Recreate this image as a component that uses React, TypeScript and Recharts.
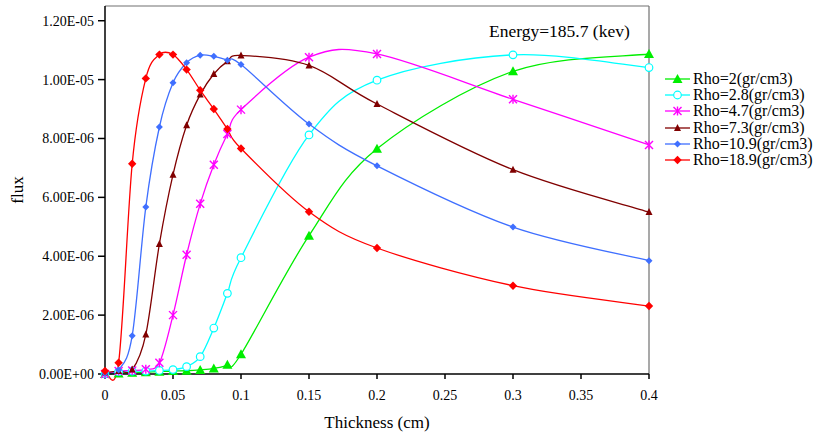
import React from "react";
import { LineChart, Line, XAxis, YAxis, ReferenceLine } from "recharts";

// ── data (flux values in units of 1e-6) ──────────────────────────────────

const THICKNESS = [0, 0.01, 0.02, 0.03, 0.04, 0.05, 0.06, 0.07, 0.08, 0.09, 0.1, 0.15, 0.2, 0.3, 0.4];

const RHO_2 = [0.0, 0.02, 0.04, 0.06, 0.08, 0.1, 0.11, 0.14, 0.19, 0.31, 0.67, 4.7, 7.65, 10.28, 10.87];
const RHO_2_8 = [0.0, 0.08, 0.1, 0.1, 0.12, 0.15, 0.25, 0.59, 1.56, 2.74, 3.95, 8.12, 9.98, 10.84, 10.41];
const RHO_4_7 = [0.0, 0.1, 0.12, 0.16, 0.38, 2.0, 4.05, 5.78, 7.11, 8.15, 8.98, 10.76, 10.87, 9.33, 7.78];
const RHO_7_3 = [0.05, 0.1, 0.15, 1.34, 4.42, 6.77, 8.45, 9.49, 10.19, 10.62, 10.82, 10.48, 9.17, 6.94, 5.5];
const RHO_10_9 = [0.02, 0.14, 1.3, 5.67, 8.39, 9.89, 10.57, 10.83, 10.79, 10.66, 10.51, 8.49, 7.07, 4.99, 3.85];
const RHO_18_9 = [0.1, 0.38, 7.14, 10.04, 10.85, 10.85, 10.34, 9.64, 9.0, 8.32, 7.66, 5.51, 4.28, 3.0, 2.31];

const X_TICKS = [0, 0.05, 0.1, 0.15, 0.2, 0.25, 0.3, 0.35, 0.4];
const Y_TICKS = [0, 2e-6, 4e-6, 6e-6, 8e-6, 1e-5, 1.2e-5];

type Shape = "triangle" | "circle" | "star" | "smallTriangle" | "diamond" | "bigDiamond";

const SERIES: { key: string; name: string; values: number[]; color: string; shape: Shape }[] = [
  { key: "r2", name: "Rho=2(gr/cm3)", values: RHO_2, color: "#00ee00", shape: "triangle" },
  { key: "r28", name: "Rho=2.8(gr/cm3)", values: RHO_2_8, color: "#00ffff", shape: "circle" },
  { key: "r47", name: "Rho=4.7(gr/cm3)", values: RHO_4_7, color: "#ff00ff", shape: "star" },
  { key: "r73", name: "Rho=7.3(gr/cm3)", values: RHO_7_3, color: "#800000", shape: "smallTriangle" },
  { key: "r109", name: "Rho=10.9(gr/cm3)", values: RHO_10_9, color: "#3f6fff", shape: "diamond" },
  { key: "r189", name: "Rho=18.9(gr/cm3)", values: RHO_18_9, color: "#ff0000", shape: "bigDiamond" },
];

const rows = THICKNESS.map((t, i) => {
  const row: Record<string, number> = { t };
  SERIES.forEach((s) => (row[s.key] = s.values[i] * 1e-6));
  return row;
});

const FONT = '"Liberation Serif", "Times New Roman", serif';

// Excel-style smoothed line (bezier through points, tension 1/6)
// eslint-disable-next-line @typescript-eslint/no-explicit-any
const excelCurve = (context: any) => {
  let pts: number[][] = [];
  return {
    areaStart() {},
    areaEnd() {},
    lineStart() {
      pts = [];
    },
    lineEnd() {
      if (!pts.length) return;
      context.moveTo(pts[0][0], pts[0][1]);
      for (let i = 0; i < pts.length - 1; i++) {
        const p0 = pts[i - 1] || pts[i];
        const p1 = pts[i];
        const p2 = pts[i + 1];
        const p3 = pts[i + 2] || p2;
        const k = 1 / 6;
        context.bezierCurveTo(
          p1[0] + (p2[0] - p0[0]) * k,
          p1[1] + (p2[1] - p0[1]) * k,
          p2[0] - (p3[0] - p1[0]) * k,
          p2[1] - (p3[1] - p1[1]) * k,
          p2[0],
          p2[1]
        );
      }
    },
    point(x: number, y: number) {
      pts.push([+x, +y]);
    },
  };
};

function Marker({ cx, cy, shape, color }: { cx: number; cy: number; shape: Shape; color: string }) {
  switch (shape) {
    case "triangle":
      return <polygon points={`${cx},${cy - 5} ${cx + 5},${cy + 4} ${cx - 5},${cy + 4}`} fill={color} />;
    case "circle":
      return <circle cx={cx} cy={cy} r={3.8} fill="#fff" stroke={color} strokeWidth={1.2} />;
    case "star":
      return (
        <g stroke={color} strokeWidth={1.4}>
          <line x1={cx - 4} y1={cy - 4} x2={cx + 4} y2={cy + 4} />
          <line x1={cx - 4} y1={cy + 4} x2={cx + 4} y2={cy - 4} />
          <line x1={cx} y1={cy - 4.5} x2={cx} y2={cy + 4.5} />
        </g>
      );
    case "smallTriangle":
      return <polygon points={`${cx},${cy - 4} ${cx + 3.5},${cy + 3} ${cx - 3.5},${cy + 3}`} fill={color} />;
    case "diamond":
      return <polygon points={`${cx},${cy - 3.5} ${cx + 3.5},${cy} ${cx},${cy + 3.5} ${cx - 3.5},${cy}`} fill={color} />;
    default:
      return <polygon points={`${cx},${cy - 4.2} ${cx + 4.2},${cy} ${cx},${cy + 4.2} ${cx - 4.2},${cy}`} fill={color} />;
  }
}

function sci(v: number) {
  if (v === 0) return "0.00E+00";
  const [m, e] = v.toExponential(2).split("e");
  const n = parseInt(e, 10);
  return `${m}E${n < 0 ? "-" : "+"}${String(Math.abs(n)).padStart(2, "0")}`;
}

function LegendBox() {
  return (
    <div style={{ position: "absolute", left: 663, top: 70.9, fontFamily: FONT, fontSize: 16, color: "#000" }}>
      {SERIES.map((s) => (
        <div key={s.key} style={{ display: "flex", alignItems: "center", height: 16.2, whiteSpace: "nowrap" }}>
          <svg width={30} height={16}>
            <line x1={2} y1={8} x2={27} y2={8} stroke={s.color} strokeWidth={1.3} />
            <Marker cx={14.5} cy={8} shape={s.shape} color={s.color} />
          </svg>
          <span style={{ fontFamily: FONT }}>{s.name}</span>
        </div>
      ))}
    </div>
  );
}

const TICK = { fill: "#000", fontSize: 14, fontFamily: FONT };

// eslint-disable-next-line @typescript-eslint/no-explicit-any
const XTitle = ({ viewBox }: any) => (
  <text x={viewBox.x + viewBox.width / 2} y={viewBox.y + 54} textAnchor="middle" fill="#000" fontSize={17} fontFamily={FONT}>
    Thickness (cm)
  </text>
);

// eslint-disable-next-line @typescript-eslint/no-explicit-any
const YTitle = ({ viewBox }: any) => {
  const cy = viewBox.y + viewBox.height / 2;
  return (
    <text x={23} y={cy} transform={`rotate(-90 23 ${cy})`} textAnchor="middle" fill="#000" fontSize={17} fontFamily={FONT}>
      flux
    </text>
  );
};

export default function App() {
  return (
    <div style={{ position: "relative", width: 817, height: 433, background: "#fff", fontFamily: FONT }}>
      <style>{"body{margin:0}"}</style>
      <LineChart
        width={817}
        height={433}
        data={rows}
        margin={{ top: 6, right: 168, left: 8, bottom: 9 }}
        style={{ fontFamily: FONT }}
      >
        <XAxis
          dataKey="t"
          type="number"
          domain={[0, 0.4]}
          ticks={X_TICKS}
          tick={TICK}
          stroke="#000"
          strokeWidth={1.5}
          tickSize={5}
          tickMargin={11}
          height={50}
          label={{ content: XTitle }}
        />
        <YAxis
          type="number"
          domain={[0, 1.25e-5]}
          ticks={Y_TICKS}
          tickFormatter={sci}
          tick={TICK}
          stroke="#000"
          strokeWidth={1.5}
          tickSize={7}
          tickMargin={4}
          width={97}
          label={{ content: YTitle }}
        />
        <ReferenceLine y={1.25e-5} stroke="#707070" strokeWidth={1.2} />
        <ReferenceLine x={0.4} stroke="#707070" strokeWidth={1.2} />
        {SERIES.map((s) => (
          <Line
            key={s.key}
            dataKey={s.key}
            name={s.name}
            type={excelCurve}
            stroke={s.color}
            strokeWidth={1.3}
            isAnimationActive={false}
            // eslint-disable-next-line @typescript-eslint/no-explicit-any
            dot={(p: any) => <Marker key={`${s.key}-${p.index}`} cx={p.cx} cy={p.cy} shape={s.shape} color={s.color} />}
          />
        ))}
      </LineChart>
      <div style={{ position: "absolute", left: 489, top: 20.5, fontFamily: FONT, fontSize: 17.5, color: "#000" }}>
        Energy=185.7 (kev)
      </div>
      <LegendBox />
    </div>
  );
}
